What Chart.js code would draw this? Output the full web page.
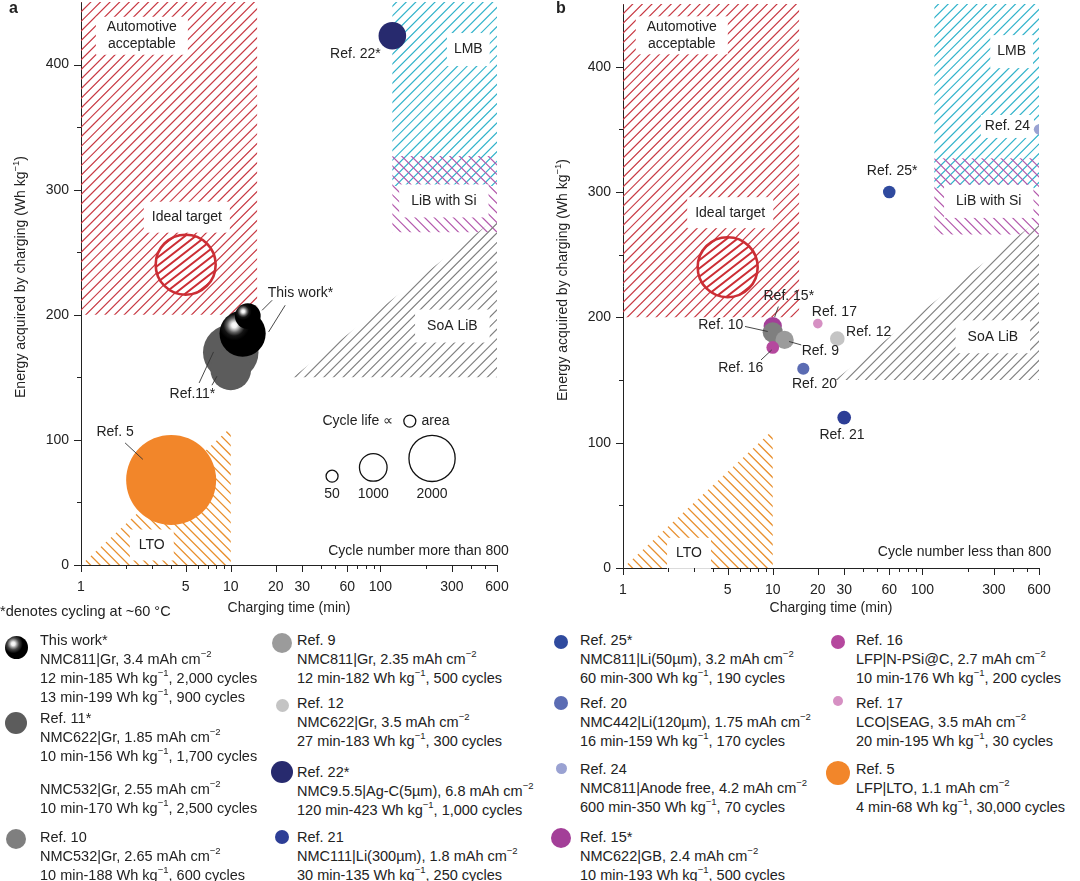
<!DOCTYPE html>
<html><head><meta charset="utf-8">
<script src="https://cdn.jsdelivr.net/npm/chart.js@4.4.1/dist/chart.umd.min.js"></script>
<style>
body{margin:0;background:#fff;font-family:'Liberation Sans',Arial,Helvetica,sans-serif;color:#222;}
#wrap{position:relative;width:1080px;height:881px;overflow:hidden;background:#fff;}
canvas{position:absolute;top:0;}
.panel{position:absolute;font-weight:bold;font-size:16px;line-height:16px;}
.leg{position:absolute;font-size:14.5px;line-height:19px;white-space:nowrap;color:#222;}
.ic{position:absolute;border-radius:50%;}
sup{font-size:9.5px;line-height:0;position:relative;top:-1px;vertical-align:super;}
</style></head>
<body><div id="wrap">
<canvas id="ca" width="540" height="620" style="left:0"></canvas>
<canvas id="cb" width="540" height="620" style="left:540px"></canvas>
<div class="panel" style="left:9px;top:0px">a</div>
<div class="panel" style="left:556px;top:0px">b</div>
<div class="leg" style="left:0;top:602px">*denotes cycling at ~60 °C</div>
<div id="legend"></div>
</div>
<script>
// ---------------- data ----------------
const xTickValues=[1,2,3,4,5,6,7,8,9,10,20,30,40,50,60,70,80,90,100,200,300,400,500,600];
const xTickLabels=[1,5,10,20,30,60,100,300,600];
const yTickValues=[0,50,100,150,200,250,300,350,400];
const yTickLabels=[0,100,200,300,400];

// panel a (cycle number more than 800)
const thisWorkTime=[12,13], thisWorkEnergy=[185,199], thisWorkCycles=[2000,900];
const ref11Time=[10,10], ref11Energy=[170,156], ref11Cycles=[2500,1700];
const ref22Time=[120], ref22Energy=[423], ref22Cycles=[1000];
const ref5Time=[4], ref5Energy=[68], ref5Cycles=[30000];
const keyCycles=[50,1000,2000];

// panel b (cycle number less than 800)
const bNames=['Ref. 15*','Ref. 10','Ref. 9','Ref. 16','Ref. 17','Ref. 12','Ref. 20','Ref. 21','Ref. 25*','Ref. 24'];
const bTime=[10,10,12,10,20,27,16,30,60,600];
const bEnergy=[193,188,182,176,195,183,159,120,300,350];
const bCycles=[500,600,500,200,30,300,170,250,190,70];
const bColors=['#a33f98','#7f7f7f','#9b9b9b','#b5489e','#d690c3','#c4c4c4','#5b6cb3','#2d3e96','#2f4a9e','#9aa2d2'];

// shaded regions (charging time, energy)
const automotiveRegion=[[1,200],[15,200],[15,450],[1,450]];
const lmbRegion=[[120,303],[600,303],[600,450],[120,450]];
const libSiRegion=[[120,266],[600,266],[600,327],[120,327]];
const soaRegion=[[26,150],[600,150],[600,278]];
const ltoRegion=[[1,0],[10,0],[10,110]];
const idealTarget=[5,240];

// ---------------- helpers ----------------
const FAM="'Liberation Sans', Arial, Helvetica, sans-serif";
Chart.defaults.font.family=FAM;
Chart.defaults.font.size=14;
Chart.defaults.color='#222';
const rOf=c=>Math.min(45,4.5+0.0093*c);

function P(ch,x,y){return [ch.scales.x.getPixelForValue(x),ch.scales.y.getPixelForValue(y)];}
function hatchLines(ctx,l,r,t,b,angle,sp,color,lw){
  const cx=(l+r)/2,cy=(t+b)/2,R=Math.hypot(r-l,b-t)/2+sp;
  const a=angle*Math.PI/180,dx=Math.cos(a),dy=-Math.sin(a),nx=-dy,ny=dx;
  ctx.strokeStyle=color;ctx.lineWidth=lw;ctx.beginPath();
  for(let s=-R;s<=R;s+=sp){const ox=cx+nx*s,oy=cy+ny*s;ctx.moveTo(ox-dx*R,oy-dy*R);ctx.lineTo(ox+dx*R,oy+dy*R);}
  ctx.stroke();
}
function hatchPoly(ctx,pts,angle,sp,color,lw){
  let l=1e9,r=-1e9,t=1e9,b=-1e9;
  pts.forEach(([x,y])=>{l=Math.min(l,x);r=Math.max(r,x);t=Math.min(t,y);b=Math.max(b,y);});
  ctx.save();ctx.beginPath();pts.forEach(([x,y],i)=>i?ctx.lineTo(x,y):ctx.moveTo(x,y));ctx.closePath();ctx.clip();
  hatchLines(ctx,l,r,t,b,angle,sp,color,lw);ctx.restore();
}
function drawLabel(ch,lb){
  const ctx=ch.ctx;const [x,y]=P(ch,lb.x,lb.y);
  ctx.save();ctx.font='14px '+FAM;const lh=17;
  const w=Math.max(...lb.text.map(s=>ctx.measureText(s).width));const h=lb.text.length*lh;
  if(lb.padX!==undefined){ctx.fillStyle='#fff';ctx.fillRect(x-w/2-lb.padX,y-h/2-lb.padY,w+2*lb.padX,h+2*lb.padY);}
  ctx.fillStyle='#222';ctx.textAlign='center';ctx.textBaseline='middle';
  lb.text.forEach((s,i)=>ctx.fillText(s,x,y-h/2+lh/2+i*lh));ctx.restore();
}
function sphereFill(c){
  const ch=c.chart,raw=c.raw;
  if(!raw||!ch.chartArea)return '#000';
  const X=ch.scales.x.getPixelForValue(raw.x),Y=ch.scales.y.getPixelForValue(raw.y);
  if(!isFinite(X)||!isFinite(Y))return '#000';
  const r=raw.r,hx=X-0.36*r,hy=Y-0.36*r;
  const g=ch.ctx.createRadialGradient(hx,hy,0,hx,hy,r*0.66);
  g.addColorStop(0,'#ffffff');g.addColorStop(0.17,'#f2f2f2');g.addColorStop(0.32,'#b0b0b0');
  g.addColorStop(0.48,'#606060');g.addColorStop(0.7,'#141414');g.addColorStop(1,'#000');
  return g;
}

const regionStyles=[
  {pts:automotiveRegion,angle:45,sp:6.8,color:'#c83a44',lw:1.2},
  {pts:lmbRegion,angle:45,sp:6.8,color:'#32b3cb',lw:1.2},
  {pts:libSiRegion,angle:135,sp:6.8,color:'#b45aad',lw:1.2},
  {pts:soaRegion,angle:45,sp:6.8,color:'#808080',lw:1.15},
  {pts:ltoRegion,angle:135,sp:6.8,color:'#e8902f',lw:1.3}
];

const deco={
 ca:{
  ytitle:{x:21.5,y:277},
  regionLabels:[
   {text:['Automotive','acceptable'],x:2.55,y:423,padX:11,padY:2},
   {text:['LMB'],x:386,y:412,padX:7,padY:8},
   {text:['LiB with Si'],x:265,y:291,padX:12,padY:8},
   {text:['Ideal target'],x:5.09,y:278,padX:8,padY:7},
   {text:['SoA LiB'],x:302,y:191,padX:12,padY:8},
   {text:['LTO'],x:2.97,y:16,padX:9,padY:7}
  ],
  pointLabels:[
   {text:['This work*'],x:29.2,y:217.5},
   {text:['Ref.11*'],x:5.55,y:136.5},
   {text:['Ref. 5'],x:1.69,y:106.5},
   {text:['Ref. 22*'],x:68,y:408.5},
   {text:['Cycle life ∝'],x:70.5,y:115},
   {text:['area'],x:233,y:115},
   {text:['50'],x:47.5,y:57},
   {text:['1000'],x:89.5,y:57},
   {text:['2000'],x:221,y:57},
   {text:['Cycle number more than 800'],x:179.5,y:10.8}
  ],
  leaders:[[18.9,211.6,16.2,203.6],[23.1,207.6,17.9,186.3],[6.15,145.5,7.67,170.3],[7.49,143.7,8.09,150.9],[1.97,97.6,2.59,84.4]],
  keyPos:[[47.5,71],[89.5,78],[221,85.2]],
  keySymbol:[157,115,6]
 },
 cb:{
  ytitle:{x:23.3,y:280},
  regionLabels:[
   {text:['Automotive','acceptable'],x:2.47,y:425,padX:11,padY:2},
   {text:['LMB'],x:394,y:412,padX:7,padY:8},
   {text:['LiB with Si'],x:277,y:292.5,padX:12,padY:8},
   {text:['Ideal target'],x:5.2,y:283.5,padX:8,padY:7},
   {text:['SoA LiB'],x:295,y:184.5,padX:12,padY:8},
   {text:['LTO'],x:2.76,y:11.7,padX:9,padY:7},
   {text:['Ref. 24'],x:369,y:352.3,padX:4,padY:3}
  ],
  pointLabels:[
   {text:['Ref. 25*'],x:62.7,y:316.4},
   {text:['Ref. 15*'],x:12.8,y:217.2},
   {text:['Ref. 17'],x:25.8,y:204},
   {text:['Ref. 10'],x:4.5,y:194},
   {text:['Ref. 12'],x:43.7,y:188},
   {text:['Ref. 9'],x:20.8,y:172.7},
   {text:['Ref. 16'],x:6.11,y:159.4},
   {text:['Ref. 20'],x:19,y:146.7},
   {text:['Ref. 21'],x:29,y:106.2},
   {text:['Cycle number less than 800'],x:191,y:13}
  ],
  leaders:[[10.9,208.6,10.3,200.2],[6.53,192.7,9.26,188.7],[15.5,178,12.85,180.7],[8.35,166,9.85,174]]
 }
};

const decoPlugin={
 id:'deco',
 beforeDatasetsDraw(ch){
  const d=deco[ch.canvas.id];if(!d)return;const ctx=ch.ctx;
  regionStyles.forEach(rg=>hatchPoly(ctx,rg.pts.map(p=>P(ch,p[0],p[1])),rg.angle,rg.sp,rg.color,rg.lw));
  const [cx,cy]=P(ch,idealTarget[0],idealTarget[1]);const R=30;
  ctx.save();ctx.beginPath();ctx.arc(cx,cy,R,0,2*Math.PI);ctx.fillStyle='#fff';ctx.fill();ctx.clip();
  hatchLines(ctx,cx-R,cx+R,cy-R,cy+R,38,6.5,'#cc2e35',2);ctx.restore();
  ctx.save();ctx.beginPath();ctx.arc(cx,cy,R,0,2*Math.PI);ctx.strokeStyle='#cc2e35';ctx.lineWidth=2.6;ctx.stroke();ctx.restore();
  d.regionLabels.forEach(lb=>drawLabel(ch,lb));
 },
 afterDatasetsDraw(ch){
  const d=deco[ch.canvas.id];if(!d)return;const ctx=ch.ctx;
  ctx.save();ctx.strokeStyle='#333';ctx.lineWidth=0.9;ctx.beginPath();
  d.leaders.forEach(l=>{const a=P(ch,l[0],l[1]),b=P(ch,l[2],l[3]);ctx.moveTo(a[0],a[1]);ctx.lineTo(b[0],b[1]);});
  ctx.stroke();ctx.restore();
  if(d.keyPos){
   ctx.save();ctx.strokeStyle='#111';ctx.lineWidth=1.3;
   d.keyPos.forEach((k,i)=>{const p=P(ch,k[0],k[1]);ctx.beginPath();ctx.arc(p[0],p[1],Math.max(6,rOf(keyCycles[i])),0,2*Math.PI);ctx.stroke();});
   const s=P(ch,d.keySymbol[0],d.keySymbol[1]);ctx.beginPath();ctx.arc(s[0],s[1],d.keySymbol[2],0,2*Math.PI);ctx.stroke();
   ctx.restore();
  }
  d.pointLabels.forEach(lb=>drawLabel(ch,lb));
 },
 afterDraw(ch){
  const d=deco[ch.canvas.id];if(!d)return;const ctx=ch.ctx;const a=ch.chartArea;const xs=ch.scales.x,ys=ch.scales.y;
  ctx.save();ctx.strokeStyle='#222';ctx.lineWidth=1;ctx.beginPath();
  xTickValues.forEach(v=>{const p=Math.round(xs.getPixelForValue(v))+0.5;const L=xTickLabels.includes(v)?7:4;ctx.moveTo(p,a.bottom);ctx.lineTo(p,a.bottom+L);});
  yTickValues.forEach(v=>{const p=Math.round(ys.getPixelForValue(v))+0.5;const L=yTickLabels.includes(v)?7:4;ctx.moveTo(a.left,p);ctx.lineTo(a.left-L,p);});
  ctx.stroke();ctx.restore();
  // y title with superscript
  ctx.save();ctx.translate(d.ytitle.x,d.ytitle.y);ctx.rotate(-Math.PI/2);ctx.fillStyle='#222';ctx.textBaseline='middle';ctx.textAlign='left';
  const t1='Energy acquired by charging (Wh kg',t2='−1',t3=')';
  ctx.font='14px '+FAM;const w1=ctx.measureText(t1).width,w3=ctx.measureText(t3).width;
  ctx.font='9.5px '+FAM;const w2=ctx.measureText(t2).width;
  const x0=-(w1+w2+w3)/2;
  ctx.font='14px '+FAM;ctx.fillText(t1,x0,0);ctx.fillText(t3,x0+w1+w2,0);
  ctx.font='9.5px '+FAM;ctx.fillText(t2,x0+w1,-5);
  ctx.restore();
 }
};

const noPad=s=>{s.paddingTop=0;s.paddingBottom=0;s.paddingLeft=0;s.paddingRight=0;};
function makeOptions(pad,yW,xH){
 return {
  responsive:false,animation:false,events:[],
  layout:{padding:pad,autoPadding:false},
  plugins:{legend:{display:false},tooltip:{enabled:false}},
  scales:{
   x:{type:'logarithmic',min:1,max:600,
      afterBuildTicks:s=>{s.ticks=xTickValues.map(v=>({value:v}));},
      afterFit:s=>{s.height=xH;noPad(s);},
      grid:{display:false,drawTicks:false},border:{display:true,color:'#222',width:1},
      ticks:{autoSkip:false,maxRotation:0,minRotation:0,padding:14,color:'#222',font:{size:14},
             callback:v=>xTickLabels.includes(v)?String(v):''},
      title:{display:true,text:'Charging time (min)',color:'#222',font:{size:14},padding:{top:0,bottom:3}}},
   y:{type:'linear',min:0,max:450,
      afterBuildTicks:s=>{s.ticks=yTickValues.map(v=>({value:v}));},
      afterFit:s=>{s.width=yW;noPad(s);},
      grid:{display:false,drawTicks:false},border:{display:true,color:'#222',width:1},
      ticks:{padding:12,color:'#222',font:{size:14},callback:v=>yTickLabels.includes(v)?String(v):''},
      title:{display:false}}
  }
 };
}
const pts=(t,e,c)=>t.map((v,i)=>({x:v,y:e[i],r:rOf(c[i])}));

new Chart(document.getElementById('ca'),{
 type:'bubble',
 data:{datasets:[
  {label:'This work*',data:pts(thisWorkTime,thisWorkEnergy,thisWorkCycles),backgroundColor:sphereFill,borderWidth:0,order:0},
  {label:'Ref. 11*',data:pts(ref11Time,ref11Energy,ref11Cycles),backgroundColor:'#5c5c5c',borderWidth:0,order:1},
  {label:'Ref. 22*',data:pts(ref22Time,ref22Energy,ref22Cycles),backgroundColor:'#272a6e',borderWidth:0,order:2},
  {label:'Ref. 5',data:pts(ref5Time,ref5Energy,ref5Cycles),backgroundColor:'#f2862a',borderWidth:0,order:3}
 ]},
 options:makeOptions({left:0,right:43,top:2,bottom:0},81,55),
 plugins:[decoPlugin]
});
new Chart(document.getElementById('cb'),{
 type:'bubble',
 data:{datasets:[
  {label:'Cycle number less than 800',data:pts(bTime,bEnergy,bCycles),backgroundColor:bColors,borderWidth:0,clip:0}
 ]},
 options:makeOptions({left:0,right:41,top:4,bottom:0},83,52),
 plugins:[decoPlugin]
});

// ---------------- legend ----------------
const legendText=[
 ['This work*','NMC811|Gr, 3.4 mAh cm<sup>−2</sup>','12 min-185 Wh kg<sup>−1</sup>, 2,000 cycles','13 min-199 Wh kg<sup>−1</sup>, 900 cycles'],
 ['Ref. 11*','NMC622|Gr, 1.85 mAh cm<sup>−2</sup>','10 min-156 Wh kg<sup>−1</sup>, 1,700 cycles'],
 ['NMC532|Gr, 2.55 mAh cm<sup>−2</sup>','10 min-170 Wh kg<sup>−1</sup>, 2,500 cycles'],
 ['Ref. 10','NMC532|Gr, 2.65 mAh cm<sup>−2</sup>','10 min-188 Wh kg<sup>−1</sup>, 600 cycles'],
 ['Ref. 9','NMC811|Gr, 2.35 mAh cm<sup>−2</sup>','12 min-182 Wh kg<sup>−1</sup>, 500 cycles'],
 ['Ref. 12','NMC622|Gr, 3.5 mAh cm<sup>−2</sup>','27 min-183 Wh kg<sup>−1</sup>, 300 cycles'],
 ['Ref. 22*','NMC9.5.5|Ag-C(5µm), 6.8 mAh cm<sup>−2</sup>','120 min-423 Wh kg<sup>−1</sup>, 1,000 cycles'],
 ['Ref. 21','NMC111|Li(300µm), 1.8 mAh cm<sup>−2</sup>','30 min-135 Wh kg<sup>−1</sup>, 250 cycles'],
 ['Ref. 25*','NMC811|Li(50µm), 3.2 mAh cm<sup>−2</sup>','60 min-300 Wh kg<sup>−1</sup>, 190 cycles'],
 ['Ref. 20','NMC442|Li(120µm), 1.75 mAh cm<sup>−2</sup>','16 min-159 Wh kg<sup>−1</sup>, 170 cycles'],
 ['Ref. 24','NMC811|Anode free, 4.2 mAh cm<sup>−2</sup>','600 min-350 Wh kg<sup>−1</sup>, 70 cycles'],
 ['Ref. 15*','NMC622|GB, 2.4 mAh cm<sup>−2</sup>','10 min-193 Wh kg<sup>−1</sup>, 500 cycles'],
 ['Ref. 16','LFP|N-PSi@C, 2.7 mAh cm<sup>−2</sup>','10 min-176 Wh kg<sup>−1</sup>, 200 cycles'],
 ['Ref. 17','LCO|SEAG, 3.5 mAh cm<sup>−2</sup>','20 min-195 Wh kg<sup>−1</sup>, 30 cycles'],
 ['Ref. 5','LFP|LTO, 1.1 mAh cm<sup>−2</sup>','4 min-68 Wh kg<sup>−1</sup>, 30,000 cycles']
];
const colTextX=[40,297,580,856], colIconX=[16,282,561,838];
const legendLayout=[
 {c:0,y:640,iy:647,ir:11.5,fill:'radial-gradient(circle at 36% 34%, #fff 0, #eee 9%, #a0a0a0 17%, #444 28%, #000 45%)'},
 {c:0,y:718,iy:723,ir:11,fill:'#5c5c5c'},
 {c:0,y:789},
 {c:0,y:837,iy:839,ir:10,fill:'#7f7f7f'},
 {c:1,y:640,iy:643,ir:10,fill:'#9b9b9b'},
 {c:1,y:703,iy:705,ir:6.5,fill:'#c4c4c4'},
 {c:1,y:772,iy:772,ir:11,fill:'#272a6e'},
 {c:1,y:837,iy:837,ir:7,fill:'#2d3e96'},
 {c:2,y:640,iy:642,ir:7,fill:'#2f4a9e'},
 {c:2,y:703,iy:703,ir:7,fill:'#5b6cb3'},
 {c:2,y:769,iy:768,ir:5.5,fill:'#9aa2d2'},
 {c:2,y:837,iy:838,ir:10,fill:'#a33f98'},
 {c:3,y:640,iy:642,ir:7,fill:'#b5489e'},
 {c:3,y:703,iy:701,ir:5,fill:'#d690c3'},
 {c:3,y:769,iy:773,ir:12,fill:'#f2862a'}
];
let html='';
legendText.forEach((lines,i)=>{
 const L=legendLayout[i];
 if(L.ir){html+=`<div class="ic" style="left:${colIconX[L.c]-L.ir}px;top:${L.iy-L.ir}px;width:${2*L.ir}px;height:${2*L.ir}px;background:${L.fill}"></div>`;}
 html+=`<div class="leg" style="left:${colTextX[L.c]}px;top:${L.y-9.5}px">${lines.join('<br>')}</div>`;
});
document.getElementById('legend').innerHTML=html;
</script>
</body></html>
